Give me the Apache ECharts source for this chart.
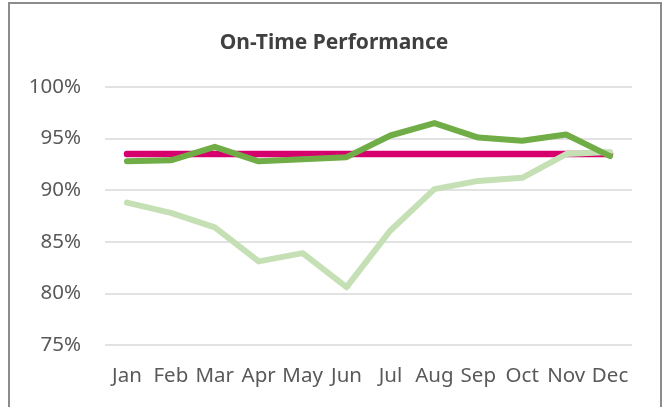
<!doctype html>
<html lang="en">
 <head>
  <meta charset="UTF-8">
  <style type="text/css">
  html,body{margin:0;padding:0;background:#fff;}
  #chart{width:668px;height:407px;}
  </style>
  <script src="https://cdn.jsdelivr.net/npm/echarts@6/dist/echarts.min.js"></script>
  <title>On-Time Performance</title>
 </head>
 <body>
    <div id="chart"></div>
    <script type="text/javascript">
    // data
    var months = ["Jan","Feb","Mar","Apr","May","Jun","Jul","Aug","Sep","Oct","Nov","Dec"];
    var target = [93.5,93.5,93.5,93.5,93.5,93.5,93.5,93.5,93.5,93.5,93.5,93.5];
    var actual = [92.8,92.9,94.2,92.8,93.0,93.2,95.3,96.5,95.1,94.8,95.4,93.3];
    var prior  = [88.8,87.8,86.4,83.1,83.9,80.6,86.1,90.1,90.9,91.2,93.5,93.7];
    var yTicks = [75, 80, 85, 90, 95, 100];

    var myChart = echarts.init(document.getElementById('chart'));

    var option = {
        animation: false,
        title: {
            text: 'On-Time Performance',
            left: 'center',
            top: 28,
            textStyle: {
                fontFamily: 'Noto Sans',
                fontSize: 21,
                fontWeight: 'bold',
                color: '#404040'
            }
        },
        graphic: [{
            type: 'rect',
            shape: { x: 9, y: 3, width: 652, height: 430 },
            style: { fill: 'none', stroke: '#8c8c8c', lineWidth: 2 },
            silent: true
        }],
        grid: {
            left: 105,
            right: 36,
            top: 87,
            bottom: 62
        },
        xAxis: {
            type: 'category',
            data: months,
            boundaryGap: true,
            axisLine: { show: false },
            axisTick: { show: false },
            axisLabel: {
                interval: 0,
                margin: 21,
                fontFamily: 'Noto Sans',
                fontSize: 20.5,
                color: '#595959'
            }
        },
        yAxis: {
            type: 'value',
            min: yTicks[0],
            max: yTicks[yTicks.length - 1],
            interval: 5,
            axisLine: { show: false },
            axisTick: { show: false },
            splitLine: { lineStyle: { color: '#d9d9d9', width: 1.5 } },
            axisLabel: {
                margin: 24,
                fontFamily: 'Noto Sans',
                fontSize: 20.5,
                color: '#595959',
                formatter: function (v) { return v + '%'; }
            }
        },
        series: [
            {
                name: 'Target',
                type: 'line',
                data: target,
                showSymbol: false,
                lineStyle: { color: '#d5006d', width: 6.5, cap: 'round' }
            },
            {
                name: 'Prior',
                type: 'line',
                data: prior,
                showSymbol: false,
                lineStyle: { color: '#c5e0b4', width: 6, cap: 'round', join: 'round' }
            },
            {
                name: 'Actual',
                type: 'line',
                data: actual,
                showSymbol: false,
                lineStyle: { color: '#70ad47', width: 6, cap: 'round', join: 'round' }
            }
        ]
    };

    myChart.setOption(option);
    </script>
 </body>
</html>
